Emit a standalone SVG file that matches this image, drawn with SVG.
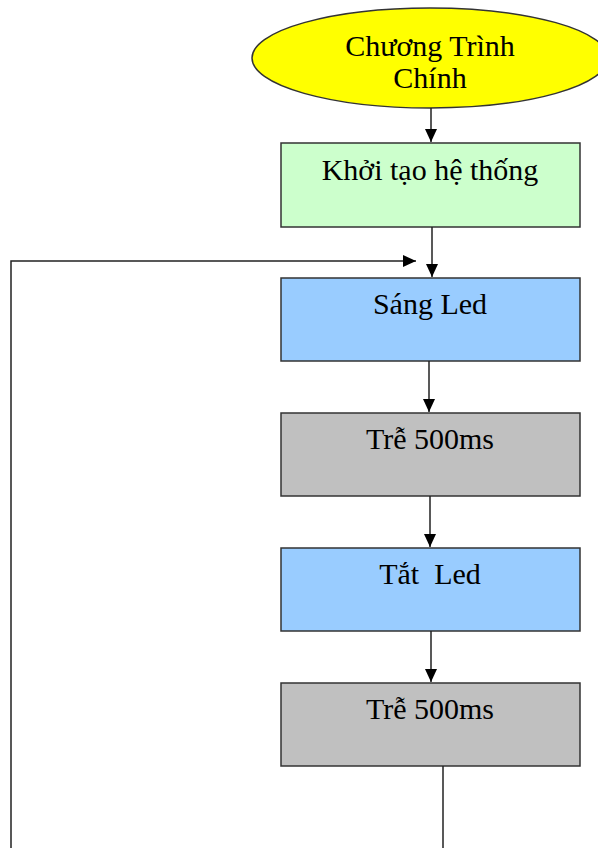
<svg xmlns="http://www.w3.org/2000/svg" width="598" height="848" viewBox="0 0 598 848">
  <style>
    .box { stroke: #333333; stroke-width: 1.5; }
    .label { font-family: "Liberation Serif", "Times New Roman", serif; font-size: 30px; fill: #000000; text-anchor: middle; }
    .wire { fill: none; stroke: #222222; stroke-width: 1.5; }
  </style>
  <defs>
    <marker id="arrow" markerUnits="userSpaceOnUse" markerWidth="14" markerHeight="12" refX="13" refY="6" orient="auto">
      <path d="M0,0 L13,6 L0,12 Z" fill="#000000"/>
    </marker>
  </defs>
  <rect width="598" height="848" fill="#ffffff"/>

  <g id="start">
    <ellipse class="box" cx="430" cy="58" rx="178" ry="50" fill="#FFFF00"/>
    <text class="label" x="430" y="56">Chương Trình</text>
    <text class="label" x="430" y="88">Chính</text>
  </g>

  <g id="init">
    <rect class="box" x="281" y="143" width="299" height="84" fill="#CCFFCC"/>
    <text class="label" x="430" y="180">Khởi tạo hệ thống</text>
  </g>

  <g id="led-on">
    <rect class="box" x="281" y="278" width="299" height="83" fill="#99CCFF"/>
    <text class="label" x="430" y="314">Sáng Led</text>
  </g>

  <g id="delay-1">
    <rect class="box" x="281" y="413" width="299" height="83" fill="#C0C0C0"/>
    <text class="label" x="430" y="449">Trễ 500ms</text>
  </g>

  <g id="led-off">
    <rect class="box" x="281" y="548" width="299" height="83" fill="#99CCFF"/>
    <text class="label" x="430" y="584" xml:space="preserve">Tắt  Led</text>
  </g>

  <g id="delay-2">
    <rect class="box" x="281" y="683" width="299" height="83" fill="#C0C0C0"/>
    <text class="label" x="430" y="719">Trễ 500ms</text>
  </g>

  <g id="connectors">
    <line class="wire" x1="431" y1="108" x2="431" y2="142" marker-end="url(#arrow)"/>
    <line class="wire" x1="432" y1="227" x2="432" y2="277" marker-end="url(#arrow)"/>
    <line class="wire" x1="429" y1="361" x2="429" y2="412" marker-end="url(#arrow)"/>
    <line class="wire" x1="430" y1="496" x2="430" y2="547" marker-end="url(#arrow)"/>
    <line class="wire" x1="431" y1="631" x2="431" y2="682" marker-end="url(#arrow)"/>
    <!-- loop back from the last delay to the top of the cycle -->
    <polyline class="wire" points="443,766 443,848"/>
    <polyline class="wire" points="11,848 11,261 416,261" marker-end="url(#arrow)"/>
  </g>
</svg>
